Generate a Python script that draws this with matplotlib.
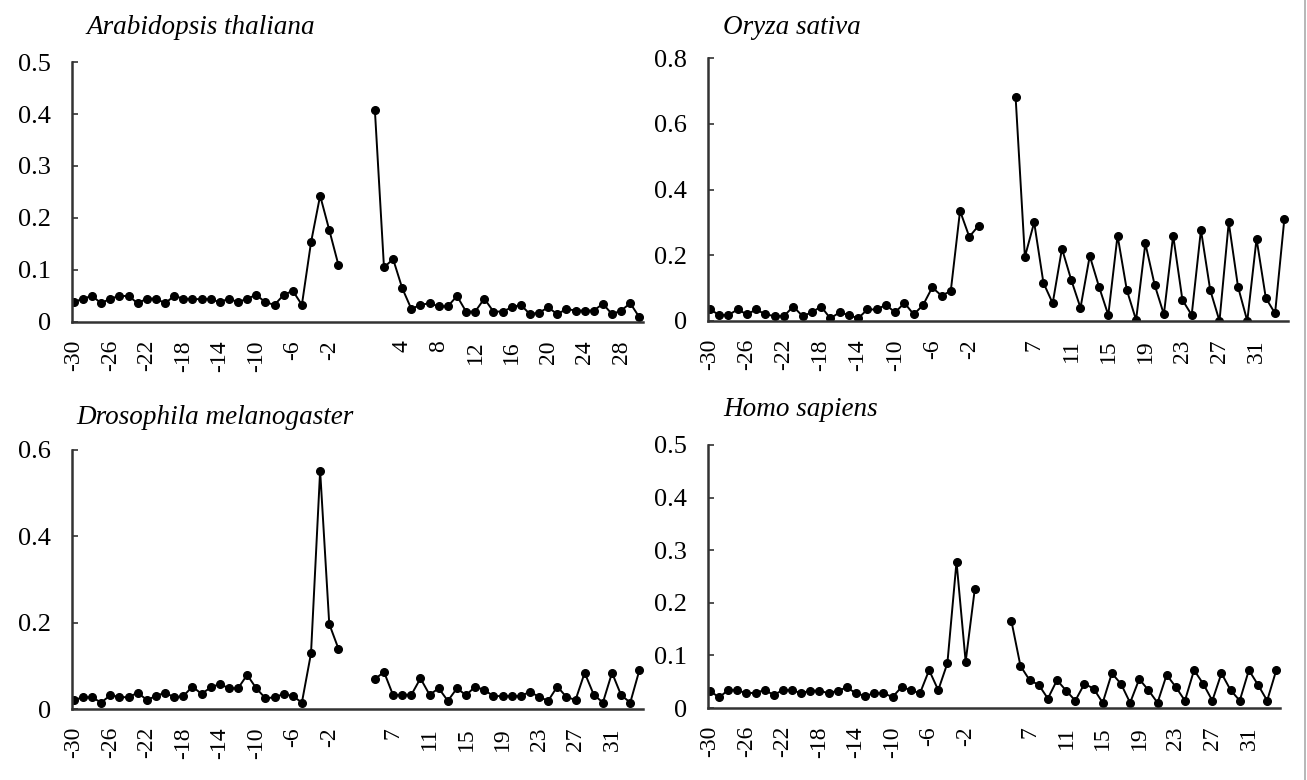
import matplotlib
matplotlib.use("Agg")
import matplotlib.pyplot as plt
from matplotlib.lines import Line2D

plt.rcParams["font.family"] = ["Liberation Serif", "DejaVu Serif"]

# positions upstream (-30..-1) and downstream of the start codon
up_pos = list(range(-30, 0))
ara_down_pos = list(range(1, 31))
down_pos = list(range(5, 35))

ara_up = [0.038, 0.045, 0.050, 0.036, 0.045, 0.050, 0.050, 0.036, 0.045, 0.045,
          0.036, 0.050, 0.045, 0.044, 0.044, 0.044, 0.038, 0.045, 0.038, 0.045,
          0.052, 0.038, 0.033, 0.052, 0.060, 0.033, 0.153, 0.243, 0.177, 0.110]
ara_down = [0.408, 0.105, 0.121, 0.065, 0.025, 0.033, 0.036, 0.030, 0.030, 0.050,
            0.020, 0.020, 0.045, 0.020, 0.020, 0.028, 0.033, 0.015, 0.018, 0.028,
            0.015, 0.025, 0.022, 0.022, 0.022, 0.035, 0.015, 0.022, 0.036, 0.009]

osa_up = [0.036, 0.018, 0.018, 0.035, 0.020, 0.035, 0.020, 0.015, 0.015, 0.044,
          0.015, 0.026, 0.044, 0.008, 0.026, 0.018, 0.008, 0.035, 0.035, 0.049,
          0.026, 0.055, 0.020, 0.048, 0.102, 0.077, 0.091, 0.335, 0.256, 0.290]
osa_down = [0.680, 0.195, 0.300, 0.116, 0.054, 0.220, 0.125, 0.040, 0.198, 0.104,
            0.018, 0.260, 0.094, 0.003, 0.236, 0.110, 0.020, 0.260, 0.064, 0.018,
            0.277, 0.094, 0.000, 0.300, 0.104, 0.000, 0.250, 0.070, 0.023, 0.310]

dme_up = [0.021, 0.027, 0.027, 0.015, 0.032, 0.028, 0.027, 0.038, 0.021, 0.030,
          0.038, 0.027, 0.030, 0.052, 0.035, 0.050, 0.058, 0.048, 0.048, 0.079,
          0.048, 0.025, 0.027, 0.035, 0.030, 0.015, 0.129, 0.552, 0.197, 0.140]
dme_down = [0.069, 0.086, 0.032, 0.033, 0.033, 0.071, 0.033, 0.048, 0.019, 0.048,
            0.032, 0.052, 0.044, 0.030, 0.030, 0.030, 0.030, 0.040, 0.028, 0.019,
            0.052, 0.028, 0.021, 0.084, 0.033, 0.015, 0.084, 0.032, 0.015, 0.090]

hsa_up = [0.033, 0.020, 0.034, 0.034, 0.028, 0.029, 0.034, 0.025, 0.034, 0.034,
          0.028, 0.033, 0.033, 0.028, 0.033, 0.039, 0.028, 0.023, 0.028, 0.028,
          0.021, 0.040, 0.034, 0.028, 0.072, 0.034, 0.085, 0.278, 0.088, 0.226]
hsa_down = [0.166, 0.080, 0.053, 0.044, 0.018, 0.053, 0.033, 0.014, 0.046, 0.037,
            0.010, 0.066, 0.046, 0.010, 0.055, 0.034, 0.010, 0.063, 0.040, 0.014,
            0.072, 0.046, 0.014, 0.066, 0.034, 0.014, 0.072, 0.044, 0.014, 0.072]

up_labels = list(range(-30, 0, 4))
ara_down_labels = list(range(4, 29, 4))
down_labels = list(range(7, 32, 4))

panels = [
    # title, up, down, down positions, down labels, shift, ymax, ystep, rect, title xy
    ("Arabidopsis thaliana", ara_up, ara_down, ara_down_pos, ara_down_labels, 32,
     0.5, 0.1, [0.0551, 0.5872, 0.4369, 0.3333], (86, 28)),
    ("Oryza sativa", osa_up, osa_down, down_pos, down_labels, 28,
     0.8, 0.2, [0.5417, 0.5885, 0.4438, 0.3371], (723, 28)),
    ("Drosophila melanogaster", dme_up, dme_down, down_pos, down_labels, 28,
     0.6, 0.2, [0.0551, 0.0910, 0.4369, 0.3321], (76, 417)),
    ("Homo sapiens", hsa_up, hsa_down, down_pos, down_labels, 28,
     0.5, 0.1, [0.5417, 0.0923, 0.4376, 0.3372], (723, 410)),
]

W, H = 1307, 780
fig = plt.figure(figsize=(W / 100, H / 100), dpi=100)

for title, up, down, dpos, dlabels, shift, ymax, ystep, rect, txy in panels:
    ax = fig.add_axes(rect)
    xu = [p + 30 for p in up_pos]
    xd = [p + shift for p in dpos]
    style = dict(color="black", lw=1.4, marker="o", ms=5.5, mfc="black", mec="black")
    ax.plot(xu, up, **style)
    ax.plot(xd, down, **style)

    ax.set_xlim(-0.2, 62.4)
    ax.set_ylim(0, ymax)
    nt = int(round(ymax / ystep))
    yt = [i * ystep for i in range(nt + 1)]
    ax.set_yticks(yt)
    ax.set_yticklabels(["0"] + ["%g" % round(v, 1) for v in yt[1:]])

    xt = [p + 30 for p in up_labels] + [p + shift for p in dlabels]
    ax.set_xticks(xt)
    ax.set_xticklabels([str(p) for p in up_labels + dlabels], rotation=90)

    for s in ["top", "right"]:
        ax.spines[s].set_visible(False)
    for s in ["left", "bottom"]:
        ax.spines[s].set_linewidth(1.8)
        ax.spines[s].set_color("#333333")
    ax.tick_params(axis="y", direction="in", length=4, width=1.2, color="#333333",
                   labelsize=19, pad=15)
    ax.tick_params(axis="x", length=0, labelsize=17, pad=13)

    fig.text(txy[0] / W, 1 - txy[1] / H, title, fontsize=19.5, style="italic",
             ha="left", va="center")

# thin image border on the right
fig.add_artist(Line2D([0.9985, 0.9985], [0, 1], color="#aaaaaa", lw=1.2))

fig.savefig("out.png", dpi=100)
